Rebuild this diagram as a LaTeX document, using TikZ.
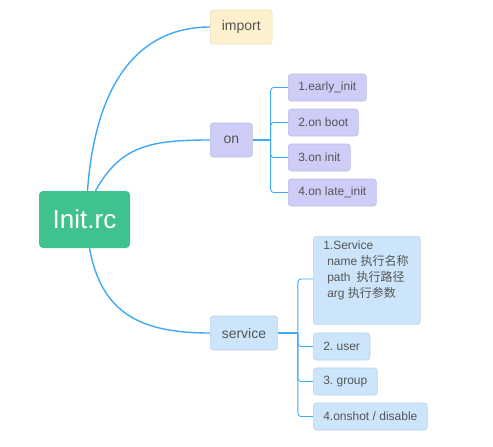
\documentclass[tikz,border=0pt]{standalone}
\usepackage{fontspec}
\setmainfont{Liberation Sans}
\newfontfamily\cjk{Noto Sans CJK SC}
\usepackage{tikz}
\usetikzlibrary{calc}
\frenchspacing
\definecolor{linkblue}{HTML}{3FA9F5}
\definecolor{rootgreen}{HTML}{40C28C}
\definecolor{textgrey}{HTML}{555555}
\definecolor{importfill}{HTML}{FDF0CD}
\definecolor{importedge}{HTML}{EEDDB4}
\definecolor{onfill}{HTML}{CDCDF7}
\definecolor{onedge}{HTML}{BCBCE6}
\definecolor{svfill}{HTML}{CDE5FA}
\definecolor{svedge}{HTML}{B9D3EA}
\tikzset{
  topic/.style={rounded corners=3pt, line width=0.6pt, inner xsep=10pt, inner ysep=0pt,
                minimum height=27pt, anchor=west, text=textgrey,
                font=\fontsize{12}{14}\selectfont},
  maintopic/.style={minimum height=34pt, inner xsep=11.5pt, font=\fontsize{14}{16}\selectfont},
  importbox/.style={topic, fill=importfill, draw=importedge, maintopic},
  onbox/.style={topic, fill=onfill, draw=onedge},
  svbox/.style={topic, fill=svfill, draw=svedge},
  rootbox/.style={rounded corners=4pt, fill=rootgreen, text=white, minimum width=91pt,
                  minimum height=57pt, inner sep=0pt, font=\fontsize{26}{30}\selectfont},
  link/.style={line width=1.4pt, draw=linkblue},
  branch/.style={line width=0.9pt, draw=linkblue, rounded corners=3pt},
  trunk/.style={line width=2pt, draw=linkblue}
}

\begin{document}
\begin{tikzpicture}[x=1pt, y=-1pt]
  \useasboundingbox (0,0) rectangle (493,447);
  \node[rootbox] (init) at (84.5,219.5) {Init.rc};
  \node[importbox] (import) at (210,27) {import};
  \node[onbox, maintopic, minimum width=42pt] (on) at (210,140) {on};
  \node[svbox, maintopic] (service) at (210,333) {service};
  % on
  \node[onbox] (onA) at (288,87.5) {1.early\_init};
  \node[onbox] (onB) at (288,122.5) {2.on boot};
  \node[onbox] (onC) at (288,157.5) {3.on init};
  \node[onbox] (onD) at (288,192.5) {4.on late\_init};
  % service
  \node[svbox, anchor=north west, inner ysep=5pt] (svA) at (313,236)
    {\begin{minipage}[t][78pt][t]{87pt}\baselineskip=16pt
      1.Service\\
      \hspace*{4pt}name {\cjk 执行名称}\\
      \hspace*{4pt}path\hspace{6pt}{\cjk 执行路径}\\
      \hspace*{4pt}arg {\cjk 执行参数}
    \end{minipage}};
  \node[svbox] (svB) at (313,346.5) {2. user};
  \node[svbox] (svC) at (313,381.5) {3. group};
  \node[svbox] (svD) at (313,416.5) {4.onshot / disable};

  \draw[link] ($(init.north)+(3,0)$) .. controls +(8,-110) and +(-70,0) .. (import.west);
  \draw[link] ($(init.north)+(11,0)$) .. controls +(25,-45) and +(-60,0) .. (on.west);
  \draw[link] ($(init.south)+(5,0)$) .. controls +(12,65) and +(-70,0) .. (service.west);

  \draw[trunk] (on.east) -- ++(18,0);
  \foreach \c in {onA,onB,onC,onD}
    \draw[branch] ($(on.east)+(18,0)$) |- (\c.west);
  \draw[trunk] (service.east) -- ++(20,0);
  \draw[branch] ($(service.east)+(20,0)$) |- ($(svA.north west)+(0,43)$);
  \foreach \c in {svB,svC,svD}
    \draw[branch] ($(service.east)+(20,0)$) |- (\c.west);
\end{tikzpicture}
\end{document}
